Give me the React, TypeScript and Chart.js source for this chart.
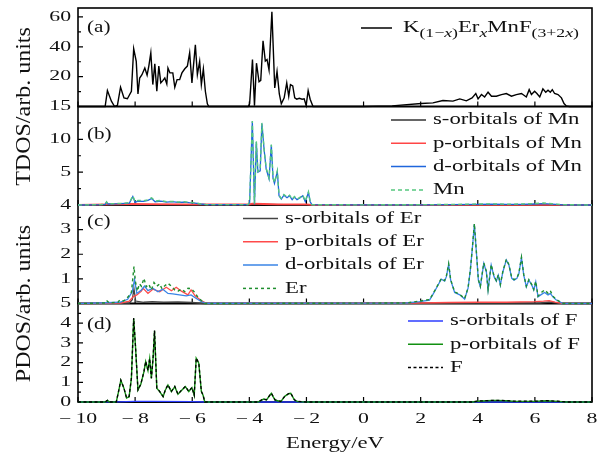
import { useEffect, useRef } from 'react';
import { Chart, registerables } from 'chart.js';

Chart.register(...registerables);

type P = [number, number][];

// ---------- tick values ----------
const energyTicks = [-10, -8, -6, -4, -2, 0, 2, 4, 6, 8];
const ticksA = [20, 40, 60];
const minorA = [10, 30, 50];
const ticksB = [5, 10, 15];
const minorB = [2.5, 7.5, 12.5];
const ticksC = [1, 2, 3, 4];
const minorC = [0.5, 1.5, 2.5, 3.5];
const ticksD = [0, 1, 2, 3, 4, 5];
const minorD = [0.5, 1.5, 2.5, 3.5, 4.5];

// ---------- labels ----------
const panelLabels = ['(a)', '(b)', '(c)', '(d)'];
const legendMn = ['s-orbitals of Mn', 'p-orbitals of Mn', 'd-orbitals of Mn', 'Mn'];
const legendEr = ['s-orbitals of Er', 'p-orbitals of Er', 'd-orbitals of Er', 'Er'];
const legendF = ['s-orbitals of F', 'p-orbitals of F', 'F'];
const titleTop = 'TDOS/arb. units';
const titleBottom = 'PDOS/arb. units';
const titleX = 'Energy/eV';

// ---------- (a) total DOS ----------
const totalDOS: P = [
  [-10, 0], [-9.05, 0], [-8.97, 10.7], [-8.83, 3.6], [-8.72, 0], [-8.62, 0.7], [-8.51, 12.9], [-8.39, 5.8],
  [-8.27, 5.2], [-8.13, 10.2], [-8.05, 38.7], [-7.96, 30.2], [-7.9, 8.4], [-7.84, 19.1], [-7.76, 21.3],
  [-7.66, 25.8], [-7.58, 21], [-7.52, 27.1], [-7.45, 36], [-7.38, 14.7], [-7.31, 28.6], [-7.24, 10.2],
  [-7.17, 27.1], [-7.1, 15.8], [-7.03, 17.3], [-6.96, 19.1], [-6.89, 15.1], [-6.85, 25.8], [-6.78, 22.5],
  [-6.68, 22.5], [-6.61, 12.9], [-6.53, 18], [-6.44, 18], [-6.36, 22.5], [-6.26, 25.3], [-6.17, 27.1],
  [-6.09, 36], [-6.01, 15.8], [-5.89, 41.3], [-5.82, 21.3], [-5.74, 30.2], [-5.68, 14.7], [-5.61, 25.1],
  [-5.54, 10.2], [-5.47, 1.8], [-5.42, 0],
  [-4.04, 0], [-3.99, 1.8], [-3.89, 31.5], [-3.82, 0.5], [-3.75, 29], [-3.66, 16.6], [-3.6, 17.5],
  [-3.52, 44], [-3.44, 30.5], [-3.38, 31.5], [-3.31, 24.4], [-3.21, 63.5], [-3.11, 12.4], [-3.03, 23.5],
  [-2.95, 8.4], [-2.88, 1.8], [-2.78, 5.8], [-2.69, 15.8], [-2.62, 6.9], [-2.56, 14.7], [-2.48, 13.8],
  [-2.41, 5.8], [-2.34, 4.9], [-2.25, 5.5], [-2.15, 4.9], [-2.08, 5.2], [-2.01, 0.7], [-1.94, 10.7],
  [-1.87, 4.9], [-1.77, 0],
  [0, 0], [1, 0.4], [2.02, 2.0], [2.43, 2.4], [2.78, 4.0], [3.13, 3.6], [3.37, 5.1], [3.6, 3.8], [3.8, 5.8],
  [3.93, 8.7], [4.01, 5.1], [4.13, 8.0], [4.24, 6.4], [4.36, 9.6], [4.48, 6.9], [4.65, 6.9], [4.83, 8.0],
  [5.0, 8.7], [5.18, 6.9], [5.35, 8.0], [5.53, 8.7], [5.7, 6.4], [5.8, 11.3], [5.88, 8.0], [5.99, 10.2],
  [6.07, 8.7], [6.17, 6.4], [6.28, 11.8], [6.38, 9.6], [6.46, 10.9], [6.54, 9.6], [6.61, 11.3], [6.69, 8.7],
  [6.81, 8.0], [6.93, 5.8], [7.02, 2.0], [7.1, 0.4], [7.2, 0], [8, 0],
];

// ---------- (b) Mn ----------
const mnS: P = [[-10, 0], [-9, 0.02], [-8.1, 0.05], [-6, 0.03], [-4, 0.02], [-3.9, 0.1], [-3.5, 0.08], [-2, 0.02], [-1.8, 0], [8, 0]];
const mnP: P = [[-10, 0.02], [-9, 0.08], [-8.1, 0.15], [-7.5, 0.12], [-6, 0.08], [-4, 0.08], [-3.9, 0.2], [-3.5, 0.15], [-3, 0.1], [-2, 0.08], [-1.8, 0.02], [8, 0.02]];
const mnD: P = [
  [-10, 0], [-9.2, 0.05], [-9.05, 0.1], [-9.0, 0.45], [-8.95, 0.15], [-8.5, 0.2], [-8.2, 0.3], [-8.08, 1.3],
  [-8.0, 0.4], [-7.9, 0.6], [-7.7, 0.55], [-7.55, 0.7], [-7.42, 1.0], [-7.3, 0.5], [-7.1, 0.6], [-6.9, 0.45],
  [-6.7, 0.5], [-6.5, 0.4], [-6.3, 0.45], [-6.1, 0.35], [-5.9, 0.3], [-5.7, 0.15], [-5.5, 0.05], [-4.05, 0.05],
  [-3.99, 0.3], [-3.895, 12.7], [-3.82, 0.1], [-3.755, 9.6], [-3.7, 5.0], [-3.62, 5.2], [-3.56, 12.4],
  [-3.48, 8.3], [-3.41, 5.5], [-3.31, 4.0], [-3.23, 9.1], [-3.17, 4.1], [-3.12, 3.3], [-3.02, 5.1],
  [-2.96, 1.4], [-2.88, 0.9], [-2.79, 1.5], [-2.68, 1.1], [-2.59, 1.4], [-2.5, 0.8], [-2.42, 1.2],
  [-2.33, 0.8], [-2.22, 1.1], [-2.13, 1.4], [-2.04, 0.5], [-1.93, 1.9], [-1.87, 0.5], [-1.81, 0.05],
  [0, 0.02], [2, 0.03], [3, 0.06], [4, 0.1], [4.5, 0.12], [5, 0.08], [5.5, 0.1], [6, 0.15], [6.3, 0.2],
  [6.6, 0.12], [7, 0.03], [8, 0],
];
const mnTot: P = [
  [-10, 0], [-9.2, 0.07], [-9.05, 0.12], [-9.0, 0.5], [-8.95, 0.18], [-8.5, 0.25], [-8.2, 0.35], [-8.08, 1.4],
  [-8.0, 0.5], [-7.9, 0.7], [-7.7, 0.65], [-7.55, 0.8], [-7.42, 1.1], [-7.3, 0.6], [-7.1, 0.7], [-6.9, 0.5],
  [-6.7, 0.55], [-6.5, 0.45], [-6.3, 0.5], [-6.1, 0.4], [-5.9, 0.35], [-5.7, 0.15], [-5.5, 0.05], [-4.05, 0.05],
  [-3.99, 0.4], [-3.895, 12.8], [-3.82, 0.2], [-3.755, 9.7], [-3.7, 5.1], [-3.62, 5.3], [-3.56, 12.5],
  [-3.48, 8.4], [-3.41, 5.6], [-3.31, 4.1], [-3.23, 9.2], [-3.17, 4.2], [-3.12, 3.4], [-3.02, 5.2],
  [-2.96, 1.5], [-2.88, 1.0], [-2.79, 1.6], [-2.68, 1.2], [-2.59, 1.5], [-2.5, 0.9], [-2.42, 1.3],
  [-2.33, 0.9], [-2.22, 1.2], [-2.13, 1.5], [-2.04, 0.6], [-1.93, 2.0], [-1.87, 0.6], [-1.81, 0.05],
  [0, 0.02], [2, 0.05], [3, 0.08], [4, 0.15], [4.5, 0.18], [5, 0.12], [5.5, 0.15], [6, 0.22], [6.3, 0.3],
  [6.6, 0.18], [7, 0.05], [8, 0],
];

// ---------- (c) Er ----------
const erS: P = [[-10, 0], [-8.2, 0.02], [-8.1, 0.15], [-8.04, 0.6], [-7.98, 0.1], [-7.7, 0.05], [-7.4, 0.08], [-7, 0.05], [-6.5, 0.06], [-6, 0.04], [-5.6, 0], [6.2, 0.02], [6.5, 0.06], [6.8, 0.02], [7, 0], [8, 0]];
const erP: P = [
  [-10, 0], [-8.5, 0.02], [-8.2, 0.1], [-8.06, 0.28], [-7.94, 0.35], [-7.78, 0.5], [-7.72, 0.62], [-7.55, 0.41],
  [-7.38, 0.58], [-7.14, 0.48], [-6.91, 0.66], [-6.73, 0.52], [-6.56, 0.66], [-6.38, 0.5], [-6.15, 0.35],
  [-6.04, 0.55], [-5.9, 0.31], [-5.69, 0.12], [-5.5, 0.01], [2, 0.02], [3, 0.04], [4, 0.05], [5, 0.05],
  [6, 0.08], [6.3, 0.1], [6.5, 0.12], [6.7, 0.06], [7, 0], [8, 0],
];
const erD: P = [
  [-10, 0], [-9.0, 0.03], [-8.54, 0.05], [-8.26, 0.17], [-8.1, 0.48], [-8.02, 0.98], [-7.94, 0.41], [-7.78, 0.55],
  [-7.67, 0.71], [-7.55, 0.52], [-7.38, 0.62], [-7.2, 0.48], [-7.03, 0.58], [-6.85, 0.41], [-6.68, 0.39],
  [-6.45, 0.35], [-6.21, 0.31], [-6.04, 0.35], [-5.87, 0.21], [-5.69, 0.08], [-5.51, 0.01], [1.5, 0.02],
  [1.96, 0.08], [2.31, 0.14], [2.43, 0.37], [2.61, 0.75], [2.72, 0.99], [2.84, 0.91], [2.9, 1.09], [2.98, 1.59],
  [3.05, 0.95], [3.19, 0.45], [3.37, 0.35], [3.54, 0.18], [3.66, 0.62], [3.74, 1.36], [3.81, 2.24], [3.88, 3.22],
  [3.95, 2.1], [4.02, 0.95], [4.09, 0.68], [4.21, 1.63], [4.3, 1.29], [4.36, 0.55], [4.47, 1.56], [4.57, 1.09],
  [4.65, 0.91], [4.72, 1.15], [4.79, 0.75], [4.88, 1.29], [5.0, 1.77], [5.09, 1.56], [5.19, 1.02], [5.27, 0.95],
  [5.37, 1.02], [5.44, 1.22], [5.53, 1.86], [5.61, 1.15], [5.7, 0.68], [5.79, 0.95], [5.89, 0.75], [5.96, 0.55],
  [6.03, 0.88], [6.11, 0.27], [6.23, 0.37], [6.34, 0.45], [6.46, 0.35], [6.54, 0.41], [6.63, 0.27], [6.75, 0.14],
  [6.87, 0.07], [6.98, 0], [8, 0],
];
const erTot: P = [
  [-10, 0], [-9.05, 0.02], [-9.0, 0.12], [-8.9, 0.02], [-8.6, 0.05], [-8.54, 0.14], [-8.4, 0.1], [-8.26, 0.25],
  [-8.13, 0.45], [-8.04, 1.5], [-7.99, 0.9], [-7.92, 0.5], [-7.85, 0.8], [-7.78, 0.7], [-7.69, 1.02],
  [-7.61, 0.68], [-7.52, 0.78], [-7.43, 0.55], [-7.34, 0.85], [-7.24, 0.7], [-7.14, 0.8], [-7.06, 0.6],
  [-6.96, 0.72], [-6.85, 0.82], [-6.73, 0.7], [-6.61, 0.55], [-6.5, 0.5], [-6.38, 0.58], [-6.26, 0.48],
  [-6.15, 0.62], [-6.03, 0.6], [-5.91, 0.45], [-5.8, 0.25], [-5.66, 0.1], [-5.56, 0], [1.5, 0.02],
  [1.96, 0.1], [2.31, 0.16], [2.43, 0.39], [2.61, 0.77], [2.72, 1.01], [2.84, 0.93], [2.9, 1.11], [2.98, 1.61],
  [3.05, 0.97], [3.19, 0.47], [3.37, 0.37], [3.54, 0.2], [3.66, 0.64], [3.74, 1.38], [3.81, 2.26], [3.88, 3.24],
  [3.95, 2.12], [4.02, 0.97], [4.09, 0.7], [4.21, 1.65], [4.3, 1.31], [4.36, 0.57], [4.47, 1.58], [4.57, 1.11],
  [4.65, 0.93], [4.72, 1.17], [4.79, 0.77], [4.88, 1.31], [5.0, 1.79], [5.09, 1.58], [5.19, 1.04], [5.27, 0.97],
  [5.37, 1.04], [5.44, 1.24], [5.53, 1.88], [5.61, 1.17], [5.7, 0.7], [5.79, 0.97], [5.89, 0.77], [5.96, 0.57],
  [6.03, 0.9], [6.11, 0.3], [6.23, 0.45], [6.34, 0.55], [6.46, 0.42], [6.54, 0.52], [6.63, 0.3], [6.75, 0.16],
  [6.87, 0.08], [6.98, 0], [8, 0],
];

// ---------- (d) F ----------
const fS: P = [[-10, 0], [-8.6, 0.01], [-8, 0.03], [-7.4, 0.03], [-6, 0.02], [-5.5, 0], [8, 0]];
const fP: P = [
  [-10, 0], [-9.05, 0], [-8.97, 0.08], [-8.89, 0], [-8.66, 0], [-8.58, 0.53], [-8.5, 1.1], [-8.39, 0.69],
  [-8.3, 0.2], [-8.21, 0.27], [-8.13, 1.2], [-8.05, 4.25], [-7.99, 2.9], [-7.9, 0.61], [-7.8, 0.9],
  [-7.69, 1.54], [-7.63, 2.05], [-7.55, 1.6], [-7.49, 2.2], [-7.43, 1.2], [-7.37, 2.25], [-7.32, 3.62],
  [-7.24, 0.7], [-7.14, 0.53], [-7.02, 0.27], [-6.94, 0.61], [-6.85, 0.86], [-6.73, 0.53], [-6.61, 0.78],
  [-6.5, 0.39], [-6.36, 0.61], [-6.24, 0.78], [-6.12, 0.53], [-6.01, 0.73], [-5.93, 0.34], [-5.86, 2.22],
  [-5.77, 1.97], [-5.68, 0.53], [-5.62, 0.34], [-5.56, 0], [-3.7, 0], [-3.5, 0.15], [-3.4, 0.1], [-3.23, 0.44],
  [-3.1, 0.1], [-2.9, 0.02], [-2.75, 0.3], [-2.62, 0.42], [-2.55, 0.44], [-2.42, 0.1], [-2.3, 0.02], [-2, 0],
  [3.8, 0], [4.0, 0.04], [4.3, 0.06], [4.6, 0.08], [5.0, 0.06], [5.3, 0.03], [6.0, 0.03], [6.4, 0.06],
  [6.8, 0.03], [7.1, 0], [8, 0],
];
const fTot: P = fP.map(([e, v]) => [e, v + (v > 0 ? 0.01 : 0)] as [number, number]);

const FONT = '"Liberation Serif", "Times New Roman", serif';

function toXY(p: P) {
  return p.map(([x, y]) => ({ x, y }));
}

function drawText(
  ctx: CanvasRenderingContext2D, s: string, x: number, y: number,
  size: number, sx: number, align: CanvasTextAlign = 'left',
  baseline: CanvasTextBaseline = 'middle', italic = false,
): number {
  ctx.save();
  ctx.font = `${italic ? 'italic ' : ''}${size}px ${FONT}`;
  ctx.textAlign = align;
  ctx.textBaseline = baseline;
  ctx.fillStyle = '#111';
  ctx.translate(x, y);
  ctx.scale(sx, 1);
  ctx.fillText(s, 0, 0);
  const w = ctx.measureText(s).width * sx;
  ctx.restore();
  return w;
}

const panelIds = ['ya', 'yb', 'yc', 'yd'];
const majors = [ticksA, ticksB, ticksC, ticksD];
const minors = [minorA, minorB, minorC, minorD];
const allMajors = [[0, ...ticksA], [0, ...ticksB], [0, ...ticksC], ticksD];

const framePlugin = {
  id: 'frame',
  beforeDatasetsDraw(chart: any) {
    const ctx: CanvasRenderingContext2D = chart.ctx;
    const { left, right } = chart.chartArea;
    const xs = chart.scales.x;
    ctx.save();
    ctx.strokeStyle = '#000';
    panelIds.forEach((id, i) => {
      const s = chart.scales[id];
      ctx.lineWidth = 1.6;
      ctx.strokeRect(left, s.top, right - left, s.bottom - s.top);
      ctx.lineWidth = 1.2;
      ctx.beginPath();
      allMajors[i].forEach((v) => {
        const py = s.getPixelForValue(v);
        ctx.moveTo(left, py);
        ctx.lineTo(left + 5, py);
      });
      minors[i].forEach((v) => {
        const py = s.getPixelForValue(v);
        ctx.moveTo(left, py);
        ctx.lineTo(left + 3, py);
      });
      energyTicks.forEach((e) => {
        const px = xs.getPixelForValue(e);
        ctx.moveTo(px, s.bottom);
        ctx.lineTo(px, s.bottom - 5);
      });
      ctx.stroke();
    });
    ctx.lineWidth = 2.2;
    ctx.beginPath();
    ctx.moveTo(left, chart.chartArea.bottom);
    ctx.lineTo(right, chart.chartArea.bottom);
    ctx.stroke();
    ctx.restore();
  },
};

function legendLine(ctx: CanvasRenderingContext2D, x: number, y: number, len: number, color: string, dash: number[], width = 1.5) {
  ctx.save();
  ctx.strokeStyle = color;
  ctx.lineWidth = width;
  ctx.setLineDash(dash);
  ctx.beginPath();
  ctx.moveTo(x, y);
  ctx.lineTo(x + len, y);
  ctx.stroke();
  ctx.restore();
}

const COL = {
  total: '#000000',
  mnS: '#333333', mnP: '#ff4646', mnD: '#1f66dc', mnT: '#55c77f',
  erS: '#444444', erP: '#ff4a4a', erD: '#3a84e6', erT: '#1f8f2f',
  fS: '#2c3cff', fP: '#119011', fT: '#000000',
};
const DASH_MN = [4, 3];
const DASH_ER = [3, 3];
const DASH_F = [3, 2.5];

const textPlugin = {
  id: 'texts',
  afterDatasetsDraw(chart: any) {
    const ctx: CanvasRenderingContext2D = chart.ctx;
    const { left, bottom } = chart.chartArea;
    const xs = chart.scales.x;
    const TS = 14.5, TSX = 1.5;
    const LS = 16, LSX = 1.42;

    panelIds.forEach((id, i) => {
      const s = chart.scales[id];
      majors[i].forEach((v) => {
        drawText(ctx, String(v), left - 7, s.getPixelForValue(v), TS, TSX, 'right', 'middle');
      });
    });
    energyTicks.forEach((e) => {
      const lab = e < 0 ? '\u2212\u2009' + Math.abs(e) : String(e);
      drawText(ctx, lab, xs.getPixelForValue(e), bottom + 17, TS, TSX, 'center', 'middle');
    });
    drawText(ctx, titleX, (chart.chartArea.left + chart.chartArea.right) / 2, bottom + 46, LS, LSX, 'center', 'alphabetic');

    const ya = chart.scales.ya, yb = chart.scales.yb, yc = chart.scales.yc, yd = chart.scales.yd;
    const rot = (s: string, cy: number) => {
      ctx.save();
      ctx.font = `20px ${FONT}`;
      ctx.fillStyle = '#111';
      ctx.textAlign = 'center';
      ctx.textBaseline = 'alphabetic';
      ctx.translate(30, cy);
      ctx.rotate(-Math.PI / 2);
      ctx.scale(1.2, 1);
      ctx.fillText(s, 0, 0);
      ctx.restore();
    };
    rot(titleTop, ya.bottom);
    rot(titleBottom, yc.bottom);

    const offs = [19.8, 28.5, 16.7, 21.5];
    [ya, yb, yc, yd].forEach((s, i) => {
      drawText(ctx, panelLabels[i], left + 9, s.top + offs[i], LS, 1.32, 'left', 'middle');
    });

    {
      const y = ya.top + 20;
      legendLine(ctx, 361, y, 31, COL.total, [], 1.5);
      let x = 403;
      const base = ya.top + 24;
      const sub = base + 4.5;
      const SS = 12.5;
      x += drawText(ctx, 'K', x, base, LS, LSX, 'left', 'alphabetic');
      x += drawText(ctx, '(1\u2212', x, sub, SS, LSX, 'left', 'alphabetic');
      x += drawText(ctx, 'x', x, sub, SS, LSX, 'left', 'alphabetic', true);
      x += drawText(ctx, ')', x, sub, SS, LSX, 'left', 'alphabetic');
      x += drawText(ctx, 'Er', x, base, LS, LSX, 'left', 'alphabetic');
      x += drawText(ctx, 'x', x, sub, SS, LSX, 'left', 'alphabetic', true);
      x += drawText(ctx, 'MnF', x, base, LS, LSX, 'left', 'alphabetic');
      x += drawText(ctx, '(3+2', x, sub, SS, LSX, 'left', 'alphabetic');
      x += drawText(ctx, 'x', x, sub, SS, LSX, 'left', 'alphabetic', true);
      drawText(ctx, ')', x, sub, SS, LSX, 'left', 'alphabetic');
    }
    {
      const cols = [COL.mnS, COL.mnP, COL.mnD, COL.mnT];
      const dashes = [[], [], [], DASH_MN];
      legendMn.forEach((t, i) => {
        const y = yb.top + 13.5 + i * 23.3;
        legendLine(ctx, 391, y, 35, cols[i], dashes[i]);
        drawText(ctx, t, 433, y, LS, LSX, 'left', 'middle');
      });
    }
    {
      const cols = [COL.erS, COL.erP, COL.erD, COL.erT];
      const dashes = [[], [], [], DASH_ER];
      legendEr.forEach((t, i) => {
        const y = yc.top + 13.5 + i * 23.3;
        legendLine(ctx, 243, y, 35, cols[i], dashes[i]);
        drawText(ctx, t, 285, y, LS, LSX, 'left', 'middle');
      });
    }
    {
      const cols = [COL.fS, COL.fP, COL.fT];
      const dashes = [[], [], DASH_F];
      legendF.forEach((t, i) => {
        const y = yd.top + 17.5 + i * 23.3;
        legendLine(ctx, 408, y, 35, cols[i], dashes[i]);
        drawText(ctx, t, 450, y, LS, LSX, 'left', 'middle');
      });
    }
  },
};

function ds(data: P, axis: string, color: string, order: number, dash: number[] = [], width = 1.3) {
  return {
    data: toXY(data),
    xAxisID: 'x',
    yAxisID: axis,
    borderColor: color,
    backgroundColor: color,
    borderWidth: width,
    borderDash: dash,
    pointRadius: 0,
    tension: 0,
    fill: false,
    order,
    clip: false as const,
  };
}

function yAxis(max: number) {
  return {
    type: 'linear' as const,
    min: 0,
    max,
    position: 'left' as const,
    stack: 'panels',
    stackWeight: 1,
    grid: { display: false },
    border: { display: false },
    ticks: { display: false },
    afterFit: (s: any) => { s.width = 78; },
  };
}

export default function App() {
  const ref = useRef<HTMLCanvasElement>(null);
  useEffect(() => {
    document.body.style.margin = '0';
    const canvas = ref.current!;
    const chart = new Chart(canvas, {
      type: 'line',
      data: {
        datasets: [
          ds(totalDOS, 'ya', COL.total, 0, [], 1.4),
          ds(mnTot, 'yb', COL.mnT, 0, DASH_MN, 1.4),
          ds(mnD, 'yb', COL.mnD, 1),
          ds(mnP, 'yb', COL.mnP, 2, [], 1.8),
          ds(mnS, 'yb', COL.mnS, 3),
          ds(erTot, 'yc', COL.erT, 0, DASH_ER, 1.4),
          ds(erD, 'yc', COL.erD, 1),
          ds(erP, 'yc', COL.erP, 2),
          ds(erS, 'yc', COL.erS, 3),
          ds(fTot, 'yd', COL.fT, 0, DASH_F, 1.3),
          ds(fP, 'yd', COL.fP, 1, [], 1.4),
          ds(fS, 'yd', COL.fS, 2),
        ] as any,
      },
      options: {
        animation: false,
        responsive: false,
        devicePixelRatio: 1,
        parsing: false as any,
        normalized: true,
        layout: { padding: { top: 8, right: 14, left: 0, bottom: 0 } },
        plugins: { legend: { display: false }, tooltip: { enabled: false } },
        scales: {
          x: {
            type: 'linear',
            min: -10,
            max: 8,
            position: 'bottom',
            grid: { display: false },
            border: { display: false },
            ticks: { display: false },
            afterFit: (s: any) => { s.height = 55; },
          },
          yd: yAxis(5),
          yc: yAxis(4),
          yb: yAxis(15),
          ya: yAxis(66),
        } as any,
      },
      plugins: [framePlugin, textPlugin],
    });
    return () => chart.destroy();
  }, []);
  return <canvas ref={ref} width={606} height={457} style={{ display: 'block', width: 606, height: 457 }} />;
}
